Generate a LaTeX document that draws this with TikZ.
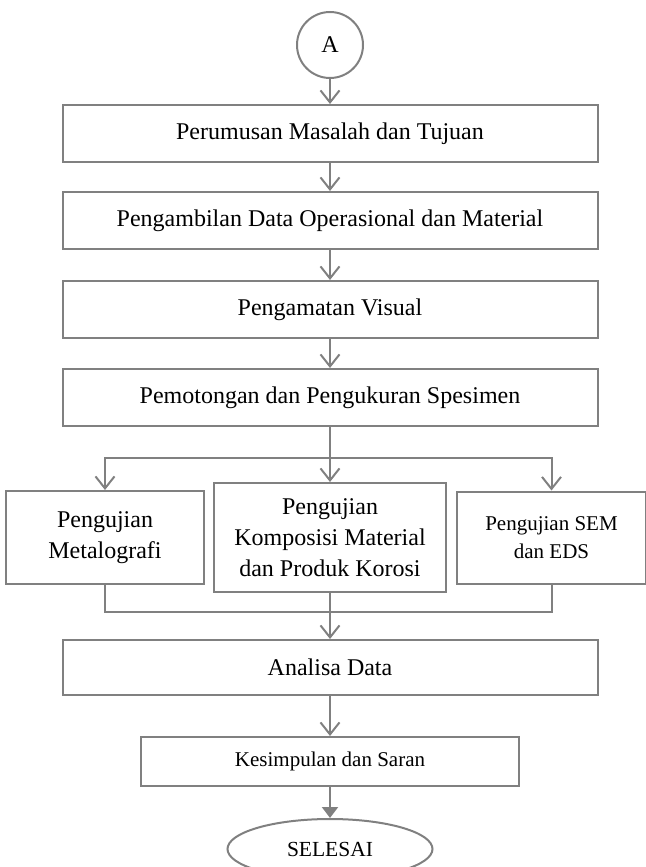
\documentclass[tikz,border=0pt]{standalone}
\usepackage{fontspec}
\setmainfont{Liberation Serif}
\usetikzlibrary{positioning,arrows.meta,shapes.geometric}
\definecolor{linegray}{HTML}{808080}

\begin{document}
\begin{tikzpicture}[x=1pt,y=1pt,>={Straight Barb[length=12pt,width=19pt]},
	line width=2pt,color=linegray,
	every node/.style={draw,text=black,align=center,inner sep=0pt,
		font=\fontsize{24pt}{31pt}\selectfont},
	stepbox/.style={rectangle,minimum width=535pt,minimum height=57pt},
	testbox/.style={rectangle},
	smalltext/.style={font=\fontsize{21pt}{28pt}\selectfont}]
	\useasboundingbox (0,0) rectangle (645,-867);
	% create the nodes.
	\node[circle,minimum size=66pt] (start) at (330,-45) {A};
	\node[stepbox,below=25pt of start] (rumus) {Perumusan Masalah dan Tujuan};
	\node[stepbox,below=28pt of rumus] (ambil) {Pengambilan Data Operasional dan Material};
	\node[stepbox,below=30pt of ambil] (amat) {Pengamatan Visual};
	\node[stepbox,below=29pt of amat] (potong) {Pemotongan dan Pengukuran Spesimen};
	\node[testbox,minimum width=232pt,minimum height=109pt,below=55pt of potong]
		(komposisi) {Pengujian\\Komposisi Material\\dan Produk Korosi};
	\node[testbox,minimum width=198pt,minimum height=93pt,left=8pt of komposisi]
		(metalo) {Pengujian\\Metalografi};
	\node[testbox,smalltext,minimum width=189pt,minimum height=92pt,right=9pt of komposisi]
		(sem) {Pengujian SEM\\dan EDS};
	\node[stepbox,minimum height=55pt,below=46pt of komposisi] (analisa) {Analisa Data};
	\node[stepbox,smalltext,minimum width=378pt,minimum height=49pt,below=40pt of analisa]
		(simpul) {Kesimpulan dan Saran};
	\node[ellipse,minimum width=205pt,minimum height=60pt,below=31pt of simpul,
		font=\fontsize{21.5pt}{24pt}\selectfont] (selesai) {SELESAI};
	\coordinate[below=31pt of potong] (cabang);
	\coordinate[below=19pt of komposisi] (gabung);

	% connect the nodes
	\draw[->] (start) -- (rumus);
	\draw[->] (rumus) -- (ambil);
	\draw[->] (ambil) -- (amat);
	\draw[->] (amat) -- (potong);
	\draw (potong) -- (cabang);
	\draw[->] (cabang) -| (metalo);
	\draw[->] (cabang) -- (komposisi);
	\draw[->] (cabang) -| (sem);
	\draw (metalo) |- (gabung);
	\draw (komposisi) -- (gabung);
	\draw (sem) |- (gabung);
	\draw[->] (gabung) -- (analisa);
	\draw[->] (analisa) -- (simpul);
	\draw[-{Triangle[length=11pt,width=16pt]}] (simpul) -- (selesai);
\end{tikzpicture}
\end{document}
